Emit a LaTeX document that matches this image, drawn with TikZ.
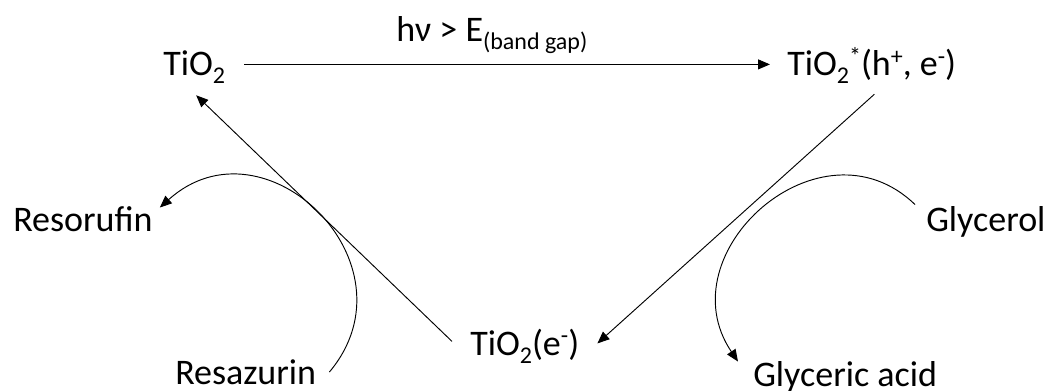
\documentclass[tikz,border=0pt]{standalone}
\usepackage{fontspec}
\setmainfont{Carlito}
\usetikzlibrary{arrows.meta}
\newcommand\chsub[1]{\raisebox{-6pt}{\fontsize{18}{20}\selectfont #1}}
\newcommand\chsup[1]{\raisebox{9pt}{\fontsize{18}{20}\selectfont #1}}
\tikzset{
  chem/.style={anchor=base west, inner sep=0pt, text height=17.4pt, text depth=0pt,
    font=\fontsize{27}{32}\selectfont},
  react/.style={line width=0.7pt, -{Triangle[length=9pt,width=7.5pt]}},
}
\begin{document}
\begin{tikzpicture}[x=0.75pt, y=0.75pt]
      \useasboundingbox (0,0) rectangle (1051,390);

      \node[chem] (tio2) at (163,314) {TiO\chsub{2}};
      \node[chem] (tio2x) at (787,314) {TiO\chsub{2}\chsup{*}(h\chsup{+}, e\chsup{-})};
      \node[chem] (tio2e) at (470,35) {TiO\chsub{2}(e\chsup{-})};
      \node[chem] (hv) at (396,348) {hν > E\chsub{(band gap)}};
      \node[chem] (resorufin) at (13,159) {Resorufin};
      \node[chem] (resazurin) at (175,6) {Resazurin};
      \node[chem] (glycerol) at (926,159) {Glycerol};
      \node[chem] (glyceric) at (753,4) {Glyceric acid};

      \draw[react] ([xshift=14.25pt]tio2.east) -- ([xshift=-12.75pt]tio2x.west);
      \draw[react] ([xshift=2pt,yshift=-13.5pt]tio2x.south) -- ([xshift=13.5pt]tio2e.east);
      \draw[react] ([xshift=-13.5pt,yshift=1.5pt]tio2e.west) -- ([xshift=1.5pt,yshift=-14.25pt]tio2.south);

      \draw[react] ([xshift=9.75pt,yshift=0.25pt]resazurin.east)
        to[out=50, in=42, looseness=1.53] ([xshift=5.25pt]resorufin.north east);
      \draw[react] ([xshift=-8.25pt,yshift=2.25pt]glycerol.north west)
        to[out=136, in=124, looseness=1.42] ([xshift=-11.25pt,yshift=0.75pt]glyceric.north west);
    \end{tikzpicture}
\end{document}
